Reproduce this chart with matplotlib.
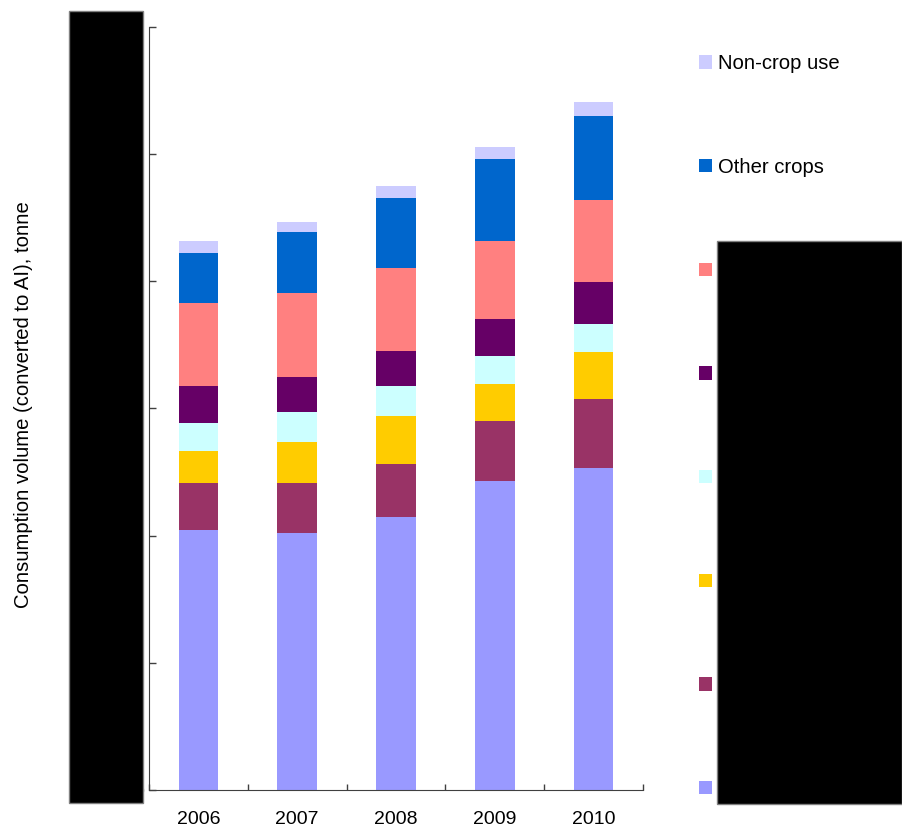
import matplotlib
matplotlib.use("Agg")
import matplotlib.pyplot as plt
from matplotlib.patches import Rectangle, Patch
import numpy as np

plt.rcParams['font.family'] = ['Liberation Sans', 'DejaVu Sans']

years = ['2006', '2007', '2008', '2009', '2010']
series_names = ['Rice', 'Fruit trees', 'Vegetables', 'Wheat and barley',
                'Soybeans', 'Potatoes', 'Other crops', 'Non-crop use']
colors = ['#9999FF', '#993366', '#FFCC00', '#CCFFFF', '#660066', '#FF8080', '#0066CC', '#CCCCFF']

rice       = [204.2, 201.9, 214.5, 242.7, 252.9]
fruit      = [37.0, 39.3, 41.6, 47.2, 54.2]
vegetables = [25.1, 32.2, 37.7, 29.0, 37.0]
wheat      = [22.0, 23.5, 23.6, 22.0, 22.0]
soybeans   = [29.1, 27.5, 27.5, 29.1, 33.7]
potatoes   = [65.9, 66.8, 65.2, 62.0, 64.5]
other      = [39.3, 47.9, 55.7, 64.5, 65.9]
noncrop    = [9.5, 7.9, 9.5, 9.4, 11.0]
series = [rice, fruit, vegetables, wheat, soybeans, potatoes, other, noncrop]

yticks = [0, 100, 200, 300, 400, 500, 600]

fig = plt.figure(figsize=(9.02, 8.30), dpi=100)
ax = fig.add_axes([149/902, 1-790/830, (643-149)/902, (790-27)/830])

x = np.arange(len(years))
bottom = np.zeros(len(years))
handles = []
for name, vals, c in zip(series_names, series, colors):
    ax.bar(x, vals, width=0.4, bottom=bottom, color=c, linewidth=0)
    bottom += np.array(vals)
    handles.append(Patch(facecolor=c, edgecolor='none', label=name))

ax.set_xlim(-0.5, len(years)-0.5)
ax.set_ylim(0, 600)
ax.set_yticks(yticks)
ax.set_yticklabels([str(v) for v in yticks])
ax.tick_params(axis='y', direction='in', length=5, width=1, color='#404040', labelsize=14)
ax.set_xticks(x)
ax.set_xticklabels(years)
ax.tick_params(axis='x', which='major', length=0, pad=15, labelsize=14)
ax.set_xticks(np.arange(-0.5, len(years)), minor=True)
ax.tick_params(axis='x', which='minor', direction='in', length=4, width=1, color='#404040')
for s in ['top', 'right']:
    ax.spines[s].set_visible(False)
for s in ['left', 'bottom']:
    ax.spines[s].set_color('#404040')

fig.text(24/902, 1-405/830, 'Consumption volume (converted to AI), tonne',
         rotation=90, ha='center', va='center', fontsize=14.6)

leg = fig.legend(handles[::-1], [h.get_label() for h in handles[::-1]],
                 loc='upper left', bbox_to_anchor=(699/902, 1-54/830),
                 frameon=False, fontsize=14.6, borderpad=0, borderaxespad=0,
                 handlelength=0.645, handleheight=0.645, handletextpad=0.3,
                 labelspacing=4.176)

# redaction boxes
fig.patches.append(Rectangle((69/902, 1-803/830), (143-69)/902, (803-11)/830,
                             transform=fig.transFigure, facecolor='black',
                             edgecolor='#808080', linewidth=1, zorder=10))
fig.patches.append(Rectangle((717/902, 1-804/830), (902-717)/902, (804-241)/830,
                             transform=fig.transFigure, facecolor='black',
                             edgecolor='#808080', linewidth=1, zorder=10))

fig.savefig('out.png', dpi=100)
